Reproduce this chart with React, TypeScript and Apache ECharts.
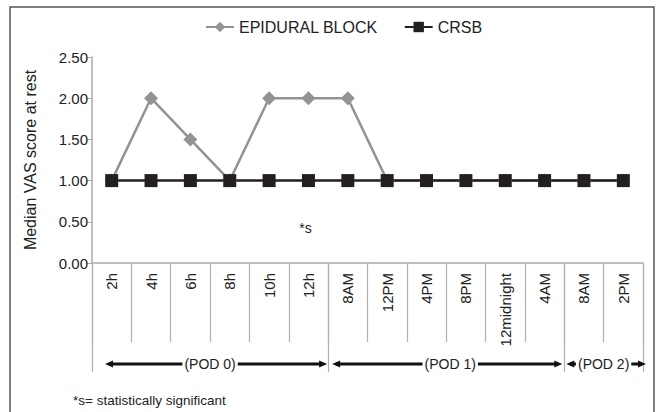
import React, { useEffect, useRef } from "react";
import * as echarts from "echarts";

const categories = ["2h", "4h", "6h", "8h", "10h", "12h", "8AM", "12PM", "4PM", "8PM", "12midnight", "4AM", "8AM", "2PM"];
const epiduralBlock = [1, 2, 1.5, 1, 2, 2, 2, 1, 1, 1, 1, 1, 1, 1];
const crsb = [1, 1, 1, 1, 1, 1, 1, 1, 1, 1, 1, 1, 1, 1];
const yMin = 0;
const yMax = 2.5;
const yStep = 0.5;
const boundaryTicks = [0, 6, 12, 14];
const podGroups = [
  { label: "(POD 0)", start: 0, end: 6 },
  { label: "(POD 1)", start: 6, end: 12 },
  { label: "(POD 2)", start: 12, end: 14 },
];
const sigNote = "*s";
const footnote = "*s= statistically significant";
const yName = "Median VAS score at rest";

const FONT = "Liberation Sans, Arial, sans-serif";

export default function App() {
  const ref = useRef<HTMLDivElement>(null);
  useEffect(() => {
    if (!ref.current) return;
    const chart = echarts.init(ref.current, null, { renderer: "svg" });
    const option: any = {
      animation: false,
      backgroundColor: "#fff",
      textStyle: { fontFamily: FONT },
      legend: {
        left: 205,
        top: 19,
        padding: 0,
        itemWidth: 28,
        itemHeight: 13,
        itemGap: 26,
        textStyle: { fontFamily: FONT, fontSize: 16, color: "#222" },
        data: ["EPIDURAL BLOCK", "CRSB"],
      },
      grid: { left: 92, right: 15, top: 57, bottom: 149, containLabel: false },
      xAxis: [
        {
          type: "category",
          data: categories,
          boundaryGap: true,
          axisLine: { lineStyle: { color: "#aaa", width: 1.5 } },
          axisTick: { show: true, length: 79, lineStyle: { color: "#b0b0b0", width: 1.2 } },
          axisLabel: { rotate: 90, margin: 10, fontSize: 15, color: "#222", fontFamily: FONT, interval: 0 },
          splitLine: { show: false },
        },
        {
          type: "value",
          min: 0,
          max: 14,
          position: "bottom",
          axisLine: { show: false },
          axisTick: { show: true, length: 109, customValues: boundaryTicks, lineStyle: { color: "#b0b0b0", width: 1.2 } },
          axisLabel: { show: false },
          splitLine: { show: false },
        },
      ],
      yAxis: {
        type: "value",
        min: yMin,
        max: yMax,
        interval: yStep,
        name: yName,
        nameLocation: "middle",
        nameGap: 54,
        nameTextStyle: { fontFamily: FONT, fontSize: 16, color: "#222" },
        axisLine: { show: true, lineStyle: { color: "#aaa", width: 1.5 } },
        axisTick: { show: true, length: 5, lineStyle: { color: "#aaa" } },
        axisLabel: { fontSize: 15, color: "#222", margin: 4, fontFamily: FONT, formatter: (v: number) => v.toFixed(2) },
        splitLine: { show: false },
      },
      series: [
        {
          name: "EPIDURAL BLOCK",
          type: "line",
          data: epiduralBlock,
          symbol: "diamond",
          symbolSize: 14,
          color: "#939393",
          lineStyle: { color: "#939393", width: 2.5 },
          itemStyle: { color: "#939393" },
        },
        {
          name: "CRSB",
          type: "line",
          data: crsb,
          symbol: "rect",
          symbolSize: 13,
          color: "#231f20",
          lineStyle: { color: "#231f20", width: 2.5 },
          itemStyle: { color: "#231f20" },
        },
      ],
    };
    chart.setOption(option);

    const px = (v: number) => chart.convertToPixel({ xAxisIndex: 1 }, v) as number;
    const py = (v: number) => chart.convertToPixel({ yAxisIndex: 0 }, v) as number;
    const axisY = py(0);
    const arrowY = axisY + 101;
    const graphics: any[] = [];
    const arrowHead = (x: number, dir: number) => ({
      type: "polygon",
      shape: { points: [[x, arrowY], [x - dir * 8, arrowY - 3.5], [x - dir * 8, arrowY + 3.5]] },
      style: { fill: "#111" },
      z: 10,
    });
    const insets = [
      [13, 1],
      [4, 2],
      [2, -3],
    ];
    podGroups.forEach((g, i) => {
      const x1 = px(g.start) + insets[i][0];
      const x2 = px(g.end) - insets[i][1];
      graphics.push({
        type: "line",
        shape: { x1: x1 + 4, y1: arrowY, x2: x2 - 4, y2: arrowY },
        style: { stroke: "#111", lineWidth: 3 },
        z: 10,
      });
      graphics.push(arrowHead(x1, -1));
      graphics.push(arrowHead(x2, 1));
      graphics.push({
        type: "text",
        x: (px(g.start) + px(g.end)) / 2 + (i === 1 ? 4 : 0),
        y: arrowY,
        style: {
          text: g.label,
          fontFamily: FONT,
          fontSize: 14,
          fill: "#222",
          align: "center",
          verticalAlign: "middle",
          backgroundColor: "#fff",
          padding: [1, 2],
        },
        z: 11,
      });
    });
    graphics.push({
      type: "text",
      x: px(5.5) - 3,
      y: py(0.43),
      style: { text: sigNote, fontFamily: FONT, fontSize: 14, fill: "#222", align: "center", verticalAlign: "middle" },
      z: 11,
    });
    graphics.push({
      type: "text",
      x: 73,
      y: 400,
      style: { text: footnote, fontFamily: FONT, fontSize: 13.5, fill: "#222", align: "left", verticalAlign: "middle" },
      z: 11,
    });
    graphics.push({
      type: "rect",
      shape: { x: 10, y: 7, width: 644, height: 420 },
      style: { fill: "none", stroke: "#555", lineWidth: 1.5 },
      z: 0,
      silent: true,
    });
    chart.setOption({ graphic: graphics });
    return () => chart.dispose();
  }, []);
  return <div ref={ref} style={{ position: "fixed", left: 0, top: 0, width: 658, height: 412 }} />;
}
